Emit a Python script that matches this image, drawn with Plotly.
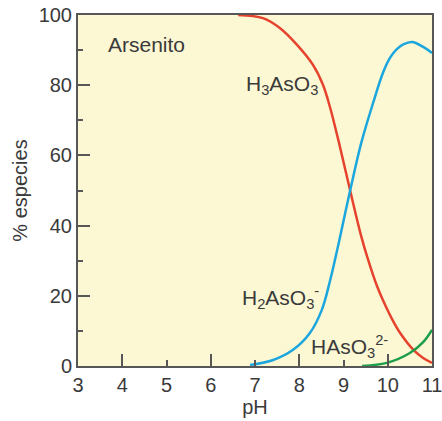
import plotly.graph_objects as go

# Arsenite speciation (% of total) versus pH
ph_h3aso3 = [6.62, 7.18, 7.56, 7.95, 8.31, 8.54, 8.70, 8.90, 9.15, 9.40, 9.55, 9.75, 9.89, 10.10, 10.28, 10.58, 10.80, 11.0]
pct_h3aso3 = [100.0, 99.1, 96.3, 91.5, 85.8, 80.0, 73.5, 63.5, 50.0, 37.0, 30.5, 23.0, 18.8, 13.3, 9.4, 4.6, 2.3, 0.9]

ph_h2aso3 = [6.89, 7.41, 7.86, 8.24, 8.51, 8.70, 8.90, 9.15, 9.40, 9.67, 9.89, 10.05, 10.20, 10.35, 10.55, 10.80, 11.0]
pct_h2aso3 = [0.3, 1.7, 4.6, 9.4, 16.0, 24.5, 35.5, 50.0, 63.5, 75.0, 83.5, 87.8, 90.2, 91.6, 92.3, 90.9, 89.2]

ph_haso3 = [9.42, 9.98, 10.50, 10.80, 11.0]
pct_haso3 = [0.0, 0.9, 3.7, 6.8, 10.3]

x_ticks = [3, 4, 5, 6, 7, 8, 9, 10, 11]
x_long_ticks = [4, 6, 8, 10]
y_ticks = [0, 20, 40, 60, 80, 100]
y_minor_ticks = [10, 30, 50, 70, 90]

RED = "#E5432D"
BLUE = "#1BA6DE"
GREEN = "#1E9E4B"
AXIS = "#575757"
TEXT = "#3a3a3a"
FONT = "Liberation Sans, Arial, sans-serif"
FS = 20
FS_LABEL = 21

fig = go.Figure()
fig.add_trace(go.Scatter(x=ph_h3aso3, y=pct_h3aso3, mode="lines",
                         line=dict(color=RED, width=2.5, shape="spline", smoothing=1.0),
                         hoverinfo="skip"))
fig.add_trace(go.Scatter(x=ph_h2aso3, y=pct_h2aso3, mode="lines",
                         line=dict(color=BLUE, width=2.5, shape="spline", smoothing=1.0),
                         hoverinfo="skip"))
fig.add_trace(go.Scatter(x=ph_haso3, y=pct_haso3, mode="lines", xaxis="x2",
                         line=dict(color=GREEN, width=2.5, shape="spline", smoothing=1.0),
                         hoverinfo="skip"))

fig.add_annotation(x=4.55, y=91.5, text="Arsenito", showarrow=False,
                   font=dict(size=FS_LABEL, color=TEXT, family=FONT))
fig.add_annotation(x=7.6, y=80, text="H<sub>3</sub>AsO<sub>3</sub>", showarrow=False,
                   font=dict(size=FS_LABEL, color=TEXT, family=FONT))
fig.add_annotation(x=7.57, y=19.5, text="H<sub>2</sub>AsO<sub>3</sub><sup>-</sup>", showarrow=False,
                   font=dict(size=FS_LABEL, color=TEXT, family=FONT))
fig.add_annotation(x=9.13, y=5.5, text="HAsO<sub>3</sub><sup>2-</sup>", showarrow=False,
                   font=dict(size=FS_LABEL, color=TEXT, family=FONT))

fig.update_layout(
    width=442, height=421,
    margin=dict(l=78, r=10, t=15, b=55, autoexpand=False),
    paper_bgcolor="white",
    plot_bgcolor="#FDF8D4",
    showlegend=False,
    font=dict(family=FONT, color=TEXT, size=FS),
    xaxis=dict(range=[3, 11], tickvals=x_ticks, ticks="inside", ticklen=6, tickwidth=2,
               tickcolor=AXIS, showline=True, linecolor=AXIS, linewidth=2, mirror=True,
               showgrid=False, zeroline=False, fixedrange=True, automargin=False,
               ticklabeloverflow="allow",
               tickfont=dict(size=FS, color=TEXT),
               title=dict(text="pH", standoff=2, font=dict(size=FS, color=TEXT))),
    xaxis2=dict(range=[3, 11], overlaying="x", anchor="y", side="bottom",
                tickvals=x_long_ticks, ticks="inside", ticklen=12, tickwidth=2,
                tickcolor=AXIS, showticklabels=False, showline=False, automargin=False,
                showgrid=False, zeroline=False, fixedrange=True),
    yaxis=dict(range=[0, 100], tickvals=y_ticks, ticks="inside", ticklen=12, tickwidth=2,
               tickcolor=AXIS, showline=True, linecolor=AXIS, linewidth=2, mirror=True,
               showgrid=False, zeroline=False, fixedrange=True, automargin=False,
               ticklabeloverflow="allow",
               minor=dict(tickvals=y_minor_ticks, ticks="inside", ticklen=5,
                          tickwidth=2, tickcolor=AXIS),
               tickfont=dict(size=FS, color=TEXT),
               title=dict(text="% especies", standoff=6, font=dict(size=FS, color=TEXT))),
)

fig.write_html("out.html")
